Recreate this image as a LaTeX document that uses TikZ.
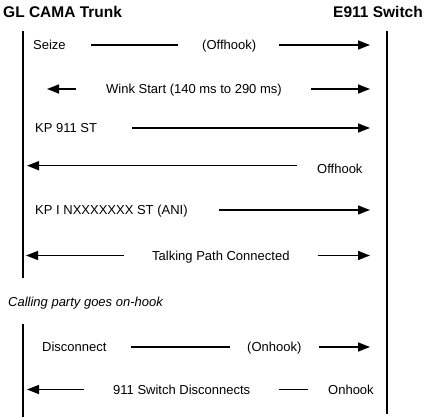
\documentclass[tikz,border=0pt]{standalone}
\usepackage{fontspec}
\setmainfont{Liberation Sans}
\usetikzlibrary{arrows.meta}

\tikzset{
  lifeline/.style={line width=2pt},
  seg/.style={line width=1.5pt},
  msg/.style={seg, -{Triangle[length=12pt,width=9pt]}},
  lbl/.style={anchor=west, inner sep=0pt, text height=9.3pt, text depth=0pt, font=\fontsize{13}{15}\selectfont},
  head/.style={inner sep=0pt, text height=11.1pt, text depth=0pt, font=\fontsize{15.5}{18}\selectfont\bfseries},
}

\begin{document}
\begin{tikzpicture}[x=1pt,y=-1pt]
  \useasboundingbox (0,0) rectangle (429,417);

  % Nodes

  \node[head, anchor=west] (trunk)  at (3,12)   {GL CAMA Trunk} ; %
  \node[head, anchor=east] (switch) at (423,12) {E911 Switch} ; %

  \node[lbl] (seize)    at (33,45)     {Seize} ; %
  \node[lbl] (offhookA) at (202,45)    {(Offhook)} ; %
  \node[lbl] (wink)     at (106,89)    {Wink Start (140 ms to 290 ms)} ; %
  \node[lbl] (kp)       at (35,128)    {KP 911 ST} ; %
  \node[lbl] (offhookB) at (317,168.5) {Offhook} ; %
  \node[lbl] (ani)      at (35,210)    {KP I NXXXXXXX ST (ANI)} ; %
  \node[lbl] (talk)     at (152,255.5) {Talking Path Connected} ; %
  \node[lbl, font=\fontsize{13}{15}\selectfont\itshape] (onhook) at (8,301.5) {Calling party goes on-hook} ; %
  \node[lbl] (disc)     at (42,347)    {Disconnect} ; %
  \node[lbl] (onhookA)  at (247,347)   {(Onhook)} ; %
  \node[lbl] (swdisc)   at (113,389.5) {911 Switch Disconnects} ; %
  \node[lbl] (onhookB)  at (328,389.5) {Onhook} ; %

  % Lifelines

  \coordinate (ltop) at (23.3,31);  \coordinate (lcut) at (23.3,278);
  \coordinate (lres) at (23.3,324); \coordinate (lbot) at (23.3,417);
  \coordinate (rtop) at (386.7,31); \coordinate (rbot) at (386.7,413.5);
  \draw[lifeline] (ltop) -- (lcut);
  \draw[lifeline] (lres) -- (lbot);
  \draw[lifeline] (rtop) -- (rbot);

  % Arrow tips

  \coordinate (seizeR)  at (370,45);
  \coordinate (winkL)   at (47,89);
  \coordinate (winkR)   at (370,89);
  \coordinate (kpR)     at (370,128);
  \coordinate (offL)    at (27,165.7);
  \coordinate (aniR)    at (370,210);
  \coordinate (talkL)   at (26,255.5);
  \coordinate (talkR)   at (370,255.5);
  \coordinate (discR)   at (370,347);
  \coordinate (swdiscL) at (27,389.5);

  % Edges

  \draw[seg, shorten <=25pt, shorten >=24pt] (seize) -- (offhookA);
  \draw[msg, shorten <=23pt] (offhookA) -- (seizeR);
  \draw[msg, shorten <=30pt] (wink.west) -- (winkL);
  \draw[msg, shorten <=29pt] (wink.east) -- (winkR);
  \draw[msg, shorten <=35pt] (kp.east) -- (kpR);
  \draw[msg, shorten <=20pt] (offhookB.west |- offL) -- (offL);
  \draw[msg, shorten <=31pt] (ani.east) -- (aniR);
  \draw[msg, shorten <=28pt] (talk.west) -- (talkL);
  \draw[msg, shorten <=28pt] (talk.east) -- (talkR);
  \draw[seg, shorten <=24pt, shorten >=17pt] (disc) -- (onhookA);
  \draw[msg, shorten <=17pt] (onhookA.east) -- (discR);
  \draw[msg, shorten <=29pt] (swdisc.west) -- (swdiscL);
  \draw[seg, shorten <=29pt, shorten >=20pt] (swdisc) -- (onhookB);
\end{tikzpicture}
\end{document}
